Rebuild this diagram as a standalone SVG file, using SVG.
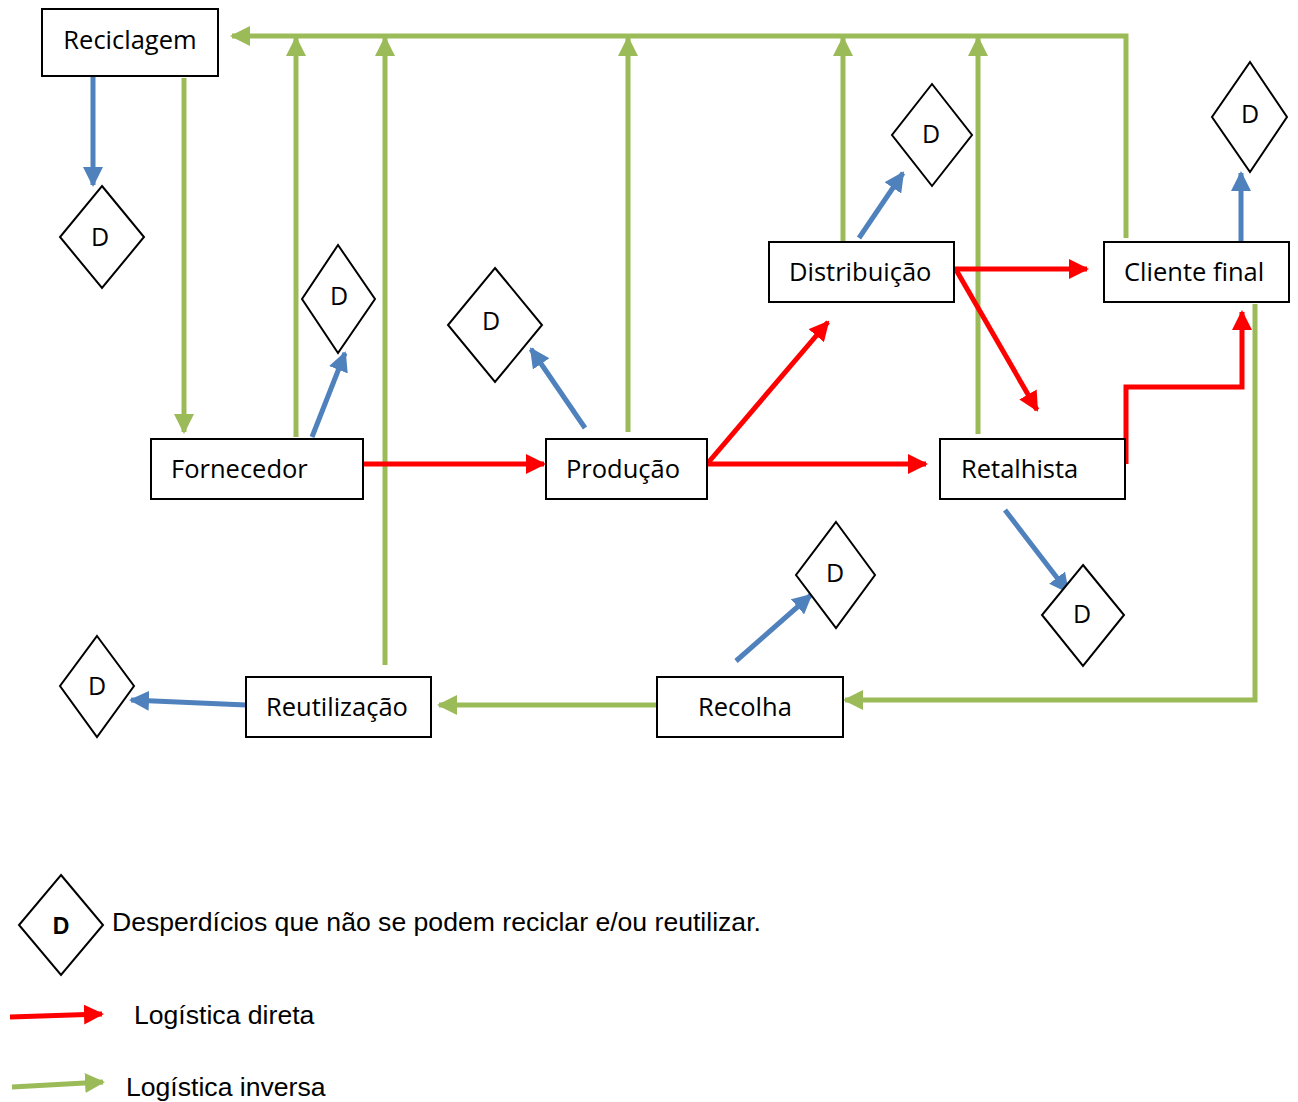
<svg xmlns="http://www.w3.org/2000/svg" width="1298" height="1102" viewBox="0 0 1298 1102">
<style>
.box{fill:#fff;stroke:#000;stroke-width:2}
.dia{fill:#fff;stroke:#000;stroke-width:2}
.lbl{font-family:"Open Sans","Noto Sans",sans-serif;font-size:25.5px;fill:#000}
.d{font-family:"Open Sans","Noto Sans",sans-serif;font-size:25px;fill:#000;text-anchor:middle}
.g{stroke:#9BBB59;stroke-width:5;fill:none}
.r{stroke:#FF0000;stroke-width:5;fill:none}
.b{stroke:#4F81BD;stroke-width:5;fill:none}
.leg{font-family:"Liberation Sans",Arial,sans-serif;font-size:26.6px;fill:#000}
</style>
<defs>
<marker id="ag" viewBox="0 0 10 10" refX="9" refY="5" markerWidth="4" markerHeight="4" orient="auto" markerUnits="strokeWidth"><path d="M0,0 L10,5 L0,10 z" fill="#9BBB59"/></marker>
<marker id="ar" viewBox="0 0 10 10" refX="9" refY="5" markerWidth="4" markerHeight="4" orient="auto" markerUnits="strokeWidth"><path d="M0,0 L10,5 L0,10 z" fill="#FF0000"/></marker>
<marker id="ab" viewBox="0 0 10 10" refX="9" refY="5" markerWidth="4" markerHeight="4" orient="auto" markerUnits="strokeWidth"><path d="M0,0 L10,5 L0,10 z" fill="#4F81BD"/></marker>
</defs>

<g id="connectors">
<!-- green -->
<path class="g" d="M1126,238 L1126,36 L232,36" marker-end="url(#ag)"/>
<path class="g" d="M184,78 L184,432" marker-end="url(#ag)"/>
<path class="g" d="M296,437 L296,38" marker-end="url(#ag)"/>
<path class="g" d="M385,665 L385,38" marker-end="url(#ag)"/>
<path class="g" d="M628,432 L628,38" marker-end="url(#ag)"/>
<path class="g" d="M843,242 L843,38" marker-end="url(#ag)"/>
<path class="g" d="M978,434 L978,38" marker-end="url(#ag)"/>
<path class="g" d="M1255,304 L1255,700 L845,700" marker-end="url(#ag)"/>
<path class="g" d="M657,705 L439,705" marker-end="url(#ag)"/>
<!-- red -->
<path class="r" d="M363,464 L544,464" marker-end="url(#ar)"/>
<path class="r" d="M707,464 L926,464" marker-end="url(#ar)"/>
<path class="r" d="M707,464 L828,322" marker-end="url(#ar)"/>
<path class="r" d="M954,269 L1087,269" marker-end="url(#ar)"/>
<path class="r" d="M955,268 L1037,410" marker-end="url(#ar)"/>
<path class="r" d="M1126,464 L1126,387 L1242,387 L1242,312" marker-end="url(#ar)"/>
<!-- blue -->
<path class="b" d="M93,76 L93,185" marker-end="url(#ab)"/>
<path class="b" d="M312,437 L345,353" marker-end="url(#ab)"/>
<path class="b" d="M585,428 L531,349" marker-end="url(#ab)"/>
<path class="b" d="M859,238 L903,173" marker-end="url(#ab)"/>
<path class="b" d="M1241,242 L1241,173" marker-end="url(#ab)"/>
<path class="b" d="M1005,510 L1068,592" marker-end="url(#ab)"/>
<path class="b" d="M736,661 L811,595" marker-end="url(#ab)"/>
<path class="b" d="M246,705 L131,700" marker-end="url(#ab)"/>
</g>

<g id="reciclagem"><rect class="box" x="42" y="9" width="176" height="67"/><text class="lbl" x="130" y="49" text-anchor="middle">Reciclagem</text></g>
<g id="fornecedor"><rect class="box" x="151" y="439" width="212" height="60"/><text class="lbl" x="171" y="478">Fornecedor</text></g>
<g id="producao"><rect class="box" x="546" y="439" width="161" height="60"/><text class="lbl" x="566" y="478">Produção</text></g>
<g id="distribuicao"><rect class="box" x="769" y="242" width="185" height="60"/><text class="lbl" x="789" y="281">Distribuição</text></g>
<g id="cliente"><rect class="box" x="1104" y="242" width="185" height="60"/><text class="lbl" x="1124" y="281">Cliente final</text></g>
<g id="retalhista"><rect class="box" x="940" y="439" width="185" height="60"/><text class="lbl" x="961" y="478">Retalhista</text></g>
<g id="reutilizacao"><rect class="box" x="246" y="677" width="185" height="60"/><text class="lbl" x="266" y="716">Reutilização</text></g>
<g id="recolha"><rect class="box" x="657" y="677" width="186" height="60"/><text class="lbl" x="698" y="716">Recolha</text></g>

<g id="d1"><polygon class="dia" points="102,186 144,237 102,288 60,237"/><text class="d" x="100" y="246">D</text></g>
<g id="d2"><polygon class="dia" points="338,245 375,299 338,353 302,299"/><text class="d" x="339" y="305">D</text></g>
<g id="d3"><polygon class="dia" points="495,268 542,325 495,382 448,325"/><text class="d" x="491" y="330">D</text></g>
<g id="d4"><polygon class="dia" points="932,84 972,135 932,186 892,135"/><text class="d" x="931" y="143">D</text></g>
<g id="d5"><polygon class="dia" points="1250,62 1287,117 1250,172 1212,117"/><text class="d" x="1250" y="123">D</text></g>
<g id="d6"><polygon class="dia" points="836,522 875,575 836,628 796,575"/><text class="d" x="835" y="582">D</text></g>
<g id="d7"><polygon class="dia" points="1083,565 1124,615 1083,666 1042,615"/><text class="d" x="1082" y="623">D</text></g>
<g id="d8"><polygon class="dia" points="97,636 134,686 97,737 60,686"/><text class="d" x="97" y="695">D</text></g>

<g id="legend">
<polygon class="dia" points="61,875 103,925 61,975 19,925"/>
<text x="61" y="934" text-anchor="middle" style="font-family:'Liberation Sans',Arial,sans-serif;font-size:23px;font-weight:bold">D</text>
<text class="leg" x="112" y="931">Desperdícios que não se podem reciclar e/ou reutilizar.</text>
<path d="M10,1017 L102,1014" stroke="#FF0000" stroke-width="5" fill="none" marker-end="url(#ar)"/>
<text class="leg" x="134" y="1024">Logística direta</text>
<path d="M12,1087 L103,1082" stroke="#9BBB59" stroke-width="5" fill="none" marker-end="url(#ag)"/>
<text class="leg" x="126" y="1096">Logística inversa</text>
</g>
</svg>
